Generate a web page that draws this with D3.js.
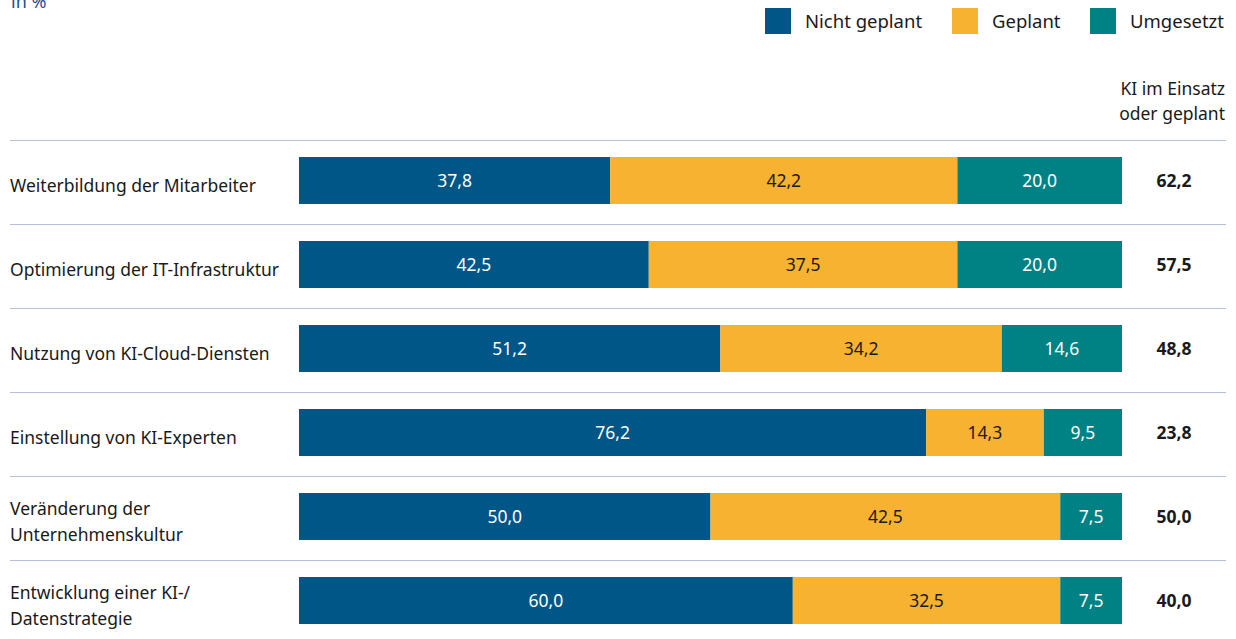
<!DOCTYPE html>
<html><head><meta charset="utf-8">
<script src="https://cdn.jsdelivr.net/npm/d3@7"></script>
<style>body{margin:0;background:#fff;} text{font-family:"Noto Sans",sans-serif;}</style>
</head><body>
<svg id="c" width="1236" height="639"></svg>
<script>
const categories = [
  ["Weiterbildung der Mitarbeiter"],
  ["Optimierung der IT-Infrastruktur"],
  ["Nutzung von KI-Cloud-Diensten"],
  ["Einstellung von KI-Experten"],
  ["Veränderung der", "Unternehmenskultur"],
  ["Entwicklung einer KI-/", "Datenstrategie"]
];
const nichtGeplant = [37.8, 42.5, 51.2, 76.2, 50.0, 60.0];
const geplant = [42.2, 37.5, 34.2, 14.3, 42.5, 32.5];
const umgesetzt = [20.0, 20.0, 14.6, 9.5, 7.5, 7.5];
const totals = [62.2, 57.5, 48.8, 23.8, 50.0, 40.0];
const seriesNames = ["Nicht geplant", "Geplant", "Umgesetzt"];
const colors = ["#005686", "#f7b231", "#008285"];
const labelColors = ["#ffffff", "#1a1a1a", "#ffffff"];

const svg = d3.select("#c");
const fmt = v => d3.format(".1f")(v).replace(".", ",");

const x = d3.scaleLinear().domain([0, 100]).range([299, 1122]);
const y = d3.scaleBand().domain(d3.range(categories.length)).range([140, 644]).paddingInner(0).paddingOuter(0);
const barH = 47;
const fs = 17.5;

// "in %"
svg.append("text").attr("x", 11).attr("y", 8).attr("font-size", 18).attr("fill", "#1f4e8c").text("in %");

// legend
const legX = [765, 952, 1090];
seriesNames.forEach((n, i) => {
  svg.append("rect").attr("x", legX[i]).attr("y", 8).attr("width", 26).attr("height", 26).attr("fill", colors[i]);
  svg.append("text").attr("x", legX[i] + 40).attr("y", 28).attr("font-size", 18.5).attr("fill", "#1a1a1a").text(n);
});

// header
svg.append("text").attr("x", 1225).attr("y", 95).attr("text-anchor", "end").attr("font-size", fs).attr("fill", "#1a1a1a").text("KI im Einsatz");
svg.append("text").attr("x", 1225).attr("y", 120).attr("text-anchor", "end").attr("font-size", fs).attr("fill", "#1a1a1a").text("oder geplant");

// separators
svg.selectAll("line.sep").data(d3.range(categories.length)).join("line")
  .attr("x1", 10).attr("x2", 1226)
  .attr("y1", i => y(i) + 0.5).attr("y2", i => y(i) + 0.5)
  .attr("stroke", "#b9bfd9").attr("stroke-width", 1);

const data = categories.map((c, i) => ({i, vals: [nichtGeplant[i], geplant[i], umgesetzt[i]]}));
const rows = svg.selectAll("g.row").data(data).join("g");

rows.each(function(d) {
  const g = d3.select(this);
  const cy = y(d.i) + 17 + barH / 2;
  let acc = 0;
  d.vals.forEach((v, k) => {
    const x0 = x(acc), x1 = x(acc + v);
    g.append("rect").attr("x", x0).attr("y", cy - barH / 2).attr("width", x1 - x0).attr("height", barH).attr("fill", colors[k]);
    g.append("text").attr("x", (x0 + x1) / 2).attr("y", cy + 6).attr("text-anchor", "middle")
      .attr("font-size", fs).attr("fill", labelColors[k]).text(fmt(v));
    acc += v;
  });
  const lines = categories[d.i];
  const lh = 26;
  const base = lines.length === 1 ? cy + 11 : cy - 1.5;
  lines.forEach((t, j) => {
    g.append("text").attr("x", 10).attr("y", base + j * lh)
      .attr("font-size", fs).attr("fill", "#1a1a1a").text(t);
  });
  g.append("text").attr("x", 1174).attr("y", cy + 6).attr("text-anchor", "middle")
    .attr("font-size", fs).attr("font-weight", "bold").attr("fill", "#1a1a1a").text(fmt(totals[d.i]));
});
</script>
</body></html>
